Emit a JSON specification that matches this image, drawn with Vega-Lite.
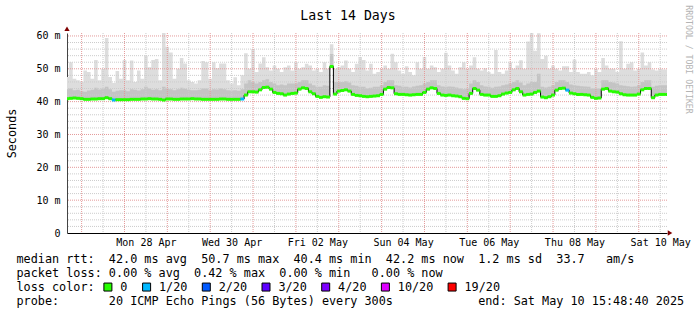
{
"$schema": "https://vega.github.io/schema/vega-lite/v6.json",
"width": 600, "height": 200,
"autosize": "none",
"padding": {"left": 67, "top": 33, "right": 30, "bottom": 82},
"background": "white",
"title": {"text": "Last 14 Days", "anchor": "middle", "frame": "group", "dx": -19, "offset": 0, "dy": 28.2, "baseline": "alphabetic", "font": "DejaVu Sans Mono", "fontSize": 13.2, "fontWeight": "normal", "color": "#000"},
"config": {"view": {"stroke": null}, "axis": {"labelFont": "DejaVu Sans Mono", "titleFont": "DejaVu Sans Mono", "labelColor": "#000", "titleColor": "#000", "titleFontWeight": "normal"}},
"datasets": {
"smoke": [
{"t":"2025-04-26T14:00","md":40.9,"up":43.5,"mx":47,"ls":"0"},
{"t":"2025-04-26T16:00","md":40.9,"up":43.8,"mx":47.5,"ls":"0"},
{"t":"2025-04-26T18:00","md":41.0,"up":44.0,"mx":52,"ls":"0"},
{"t":"2025-04-26T20:00","md":41.1,"up":43.5,"mx":47,"ls":"0"},
{"t":"2025-04-26T22:00","md":41.0,"up":43.6,"mx":46.5,"ls":"0"},
{"t":"2025-04-27T00:00","md":40.9,"up":43.2,"mx":46,"ls":"0"},
{"t":"2025-04-27T02:00","md":40.7,"up":43.0,"mx":49.5,"ls":"0"},
{"t":"2025-04-27T04:00","md":40.7,"up":43.4,"mx":49,"ls":"0"},
{"t":"2025-04-27T06:00","md":40.8,"up":43.6,"mx":47,"ls":"0"},
{"t":"2025-04-27T08:00","md":40.8,"up":44.2,"mx":52.7,"ls":"0"},
{"t":"2025-04-27T10:00","md":40.9,"up":43.7,"mx":46.5,"ls":"0"},
{"t":"2025-04-27T12:00","md":40.9,"up":44.0,"mx":50,"ls":"0"},
{"t":"2025-04-27T14:00","md":41.2,"up":44.5,"mx":59.4,"ls":"0"},
{"t":"2025-04-27T16:00","md":40.9,"up":43.8,"mx":47.5,"ls":"0"},
{"t":"2025-04-27T18:00","md":40.5,"up":43.0,"mx":45.7,"ls":"1/20"},
{"t":"2025-04-27T20:00","md":40.6,"up":43.3,"mx":49.3,"ls":"0"},
{"t":"2025-04-27T22:00","md":40.6,"up":43.5,"mx":47,"ls":"0"},
{"t":"2025-04-28T00:00","md":40.6,"up":43.5,"mx":52.7,"ls":"0"},
{"t":"2025-04-28T02:00","md":40.6,"up":43.2,"mx":46.5,"ls":"0"},
{"t":"2025-04-28T04:00","md":40.7,"up":43.8,"mx":52.5,"ls":"0"},
{"t":"2025-04-28T06:00","md":40.7,"up":43.6,"mx":46,"ls":"0"},
{"t":"2025-04-28T08:00","md":40.7,"up":43.4,"mx":49.5,"ls":"0"},
{"t":"2025-04-28T10:00","md":40.8,"up":43.8,"mx":47,"ls":"0"},
{"t":"2025-04-28T12:00","md":40.8,"up":44.5,"mx":54,"ls":"0"},
{"t":"2025-04-28T14:00","md":40.9,"up":44.0,"mx":50.5,"ls":"0"},
{"t":"2025-04-28T16:00","md":40.8,"up":43.6,"mx":52.7,"ls":"0"},
{"t":"2025-04-28T18:00","md":40.8,"up":43.8,"mx":53,"ls":"0"},
{"t":"2025-04-28T20:00","md":40.7,"up":43.5,"mx":46.5,"ls":"0"},
{"t":"2025-04-28T22:00","md":40.5,"up":44.5,"mx":61,"ls":"0"},
{"t":"2025-04-29T00:00","md":40.8,"up":44.0,"mx":56.7,"ls":"0"},
{"t":"2025-04-29T02:00","md":40.8,"up":43.8,"mx":55,"ls":"0"},
{"t":"2025-04-29T04:00","md":40.7,"up":43.5,"mx":47,"ls":"0"},
{"t":"2025-04-29T06:00","md":40.7,"up":43.8,"mx":50,"ls":"0"},
{"t":"2025-04-29T08:00","md":40.8,"up":44.2,"mx":53.3,"ls":"0"},
{"t":"2025-04-29T10:00","md":40.8,"up":43.9,"mx":51.6,"ls":"0"},
{"t":"2025-04-29T12:00","md":40.8,"up":43.6,"mx":46.5,"ls":"0"},
{"t":"2025-04-29T14:00","md":40.9,"up":43.5,"mx":46,"ls":"0"},
{"t":"2025-04-29T16:00","md":40.8,"up":43.5,"mx":45.5,"ls":"0"},
{"t":"2025-04-29T18:00","md":40.8,"up":43.6,"mx":46.5,"ls":"0"},
{"t":"2025-04-29T20:00","md":40.7,"up":44.0,"mx":52.4,"ls":"0"},
{"t":"2025-04-29T22:00","md":40.7,"up":44.0,"mx":52,"ls":"0"},
{"t":"2025-04-30T00:00","md":40.7,"up":43.5,"mx":47,"ls":"0"},
{"t":"2025-04-30T02:00","md":40.7,"up":43.8,"mx":52,"ls":"0"},
{"t":"2025-04-30T04:00","md":40.7,"up":43.7,"mx":50.2,"ls":"0"},
{"t":"2025-04-30T06:00","md":40.8,"up":44.0,"mx":51.6,"ls":"0"},
{"t":"2025-04-30T08:00","md":40.8,"up":43.8,"mx":51.6,"ls":"0"},
{"t":"2025-04-30T10:00","md":40.7,"up":43.5,"mx":46.5,"ls":"0"},
{"t":"2025-04-30T12:00","md":40.7,"up":43.4,"mx":45.5,"ls":"0"},
{"t":"2025-04-30T14:00","md":40.7,"up":43.5,"mx":47.4,"ls":"0"},
{"t":"2025-04-30T16:00","md":40.7,"up":43.3,"mx":45,"ls":"0"},
{"t":"2025-04-30T18:00","md":40.8,"up":43.8,"mx":48,"ls":"1/20"},
{"t":"2025-04-30T20:00","md":42.0,"up":45.5,"mx":54.7,"ls":"0"},
{"t":"2025-04-30T22:00","md":43.0,"up":46.5,"mx":50,"ls":"0"},
{"t":"2025-05-01T00:00","md":43.0,"up":46.0,"mx":56,"ls":"0"},
{"t":"2025-05-01T02:00","md":42.9,"up":45.5,"mx":49,"ls":"0"},
{"t":"2025-05-01T04:00","md":43.6,"up":46.0,"mx":51.6,"ls":"0"},
{"t":"2025-05-01T06:00","md":44.3,"up":46.5,"mx":53.5,"ls":"0"},
{"t":"2025-05-01T08:00","md":44.4,"up":46.8,"mx":50.5,"ls":"0"},
{"t":"2025-05-01T10:00","md":43.8,"up":46.0,"mx":49.5,"ls":"0"},
{"t":"2025-05-01T12:00","md":42.8,"up":45.5,"mx":51,"ls":"0"},
{"t":"2025-05-01T14:00","md":42.5,"up":45.0,"mx":50,"ls":"0"},
{"t":"2025-05-01T16:00","md":42.4,"up":45.2,"mx":49,"ls":"0"},
{"t":"2025-05-01T18:00","md":42.0,"up":45.0,"mx":50.5,"ls":"0"},
{"t":"2025-05-01T20:00","md":42.3,"up":45.5,"mx":51,"ls":"0"},
{"t":"2025-05-01T22:00","md":42.5,"up":45.5,"mx":49.5,"ls":"0"},
{"t":"2025-05-02T00:00","md":42.6,"up":45.5,"mx":52,"ls":"0"},
{"t":"2025-05-02T02:00","md":43.8,"up":46.0,"mx":50,"ls":"0"},
{"t":"2025-05-02T04:00","md":44.2,"up":46.5,"mx":50.5,"ls":"0"},
{"t":"2025-05-02T06:00","md":44.0,"up":46.5,"mx":51.5,"ls":"0"},
{"t":"2025-05-02T08:00","md":43.0,"up":45.5,"mx":51,"ls":"0"},
{"t":"2025-05-02T10:00","md":42.4,"up":45.0,"mx":49.5,"ls":"0"},
{"t":"2025-05-02T12:00","md":41.6,"up":44.5,"mx":50,"ls":"0"},
{"t":"2025-05-02T14:00","md":41.3,"up":44.5,"mx":49,"ls":"0"},
{"t":"2025-05-02T16:00","md":41.5,"up":45.0,"mx":52,"ls":"0"},
{"t":"2025-05-02T18:00","md":41.4,"up":44.8,"mx":50,"ls":"0"},
{"t":"2025-05-02T20:00","md":50.7,"up":54.5,"mx":57.5,"ls":"0"},
{"t":"2025-05-02T22:00","md":42.3,"up":46.0,"mx":50,"ls":"0"},
{"t":"2025-05-03T00:00","md":43.2,"up":46.0,"mx":50.5,"ls":"0"},
{"t":"2025-05-03T02:00","md":43.4,"up":46.0,"mx":51,"ls":"0"},
{"t":"2025-05-03T04:00","md":43.6,"up":46.2,"mx":52.5,"ls":"0"},
{"t":"2025-05-03T06:00","md":43.2,"up":45.8,"mx":50,"ls":"0"},
{"t":"2025-05-03T08:00","md":42.2,"up":45.0,"mx":49,"ls":"0"},
{"t":"2025-05-03T10:00","md":41.9,"up":44.8,"mx":51.5,"ls":"0"},
{"t":"2025-05-03T12:00","md":41.8,"up":44.5,"mx":53.6,"ls":"0"},
{"t":"2025-05-03T14:00","md":41.6,"up":44.5,"mx":52.7,"ls":"0"},
{"t":"2025-05-03T16:00","md":41.5,"up":44.0,"mx":49.5,"ls":"0"},
{"t":"2025-05-03T18:00","md":41.6,"up":44.2,"mx":51.5,"ls":"0"},
{"t":"2025-05-03T20:00","md":41.7,"up":44.5,"mx":48.5,"ls":"0"},
{"t":"2025-05-03T22:00","md":41.8,"up":44.5,"mx":49,"ls":"0"},
{"t":"2025-05-04T00:00","md":42.2,"up":45.0,"mx":50,"ls":"0"},
{"t":"2025-05-04T02:00","md":43.8,"up":46.0,"mx":51,"ls":"0"},
{"t":"2025-05-04T04:00","md":44.3,"up":46.5,"mx":50,"ls":"0"},
{"t":"2025-05-04T06:00","md":44.2,"up":46.5,"mx":54.6,"ls":"0"},
{"t":"2025-05-04T08:00","md":42.4,"up":45.0,"mx":52,"ls":"0"},
{"t":"2025-05-04T10:00","md":42.2,"up":44.8,"mx":49.5,"ls":"0"},
{"t":"2025-05-04T12:00","md":42.2,"up":44.5,"mx":48.5,"ls":"0"},
{"t":"2025-05-04T14:00","md":42.1,"up":44.5,"mx":50.8,"ls":"0"},
{"t":"2025-05-04T16:00","md":42.0,"up":44.3,"mx":49,"ls":"0"},
{"t":"2025-05-04T18:00","md":42.1,"up":44.6,"mx":48,"ls":"0"},
{"t":"2025-05-04T20:00","md":42.2,"up":44.8,"mx":52,"ls":"0"},
{"t":"2025-05-04T22:00","md":42.2,"up":45.0,"mx":50,"ls":"0"},
{"t":"2025-05-05T00:00","md":42.8,"up":45.5,"mx":53.6,"ls":"0"},
{"t":"2025-05-05T02:00","md":43.8,"up":46.0,"mx":50,"ls":"0"},
{"t":"2025-05-05T04:00","md":44.2,"up":46.5,"mx":51,"ls":"0"},
{"t":"2025-05-05T06:00","md":44.0,"up":46.5,"mx":50.5,"ls":"0"},
{"t":"2025-05-05T08:00","md":42.5,"up":45.0,"mx":49,"ls":"0"},
{"t":"2025-05-05T10:00","md":42.0,"up":44.6,"mx":50,"ls":"0"},
{"t":"2025-05-05T12:00","md":41.9,"up":44.5,"mx":54.9,"ls":"0"},
{"t":"2025-05-05T14:00","md":42.0,"up":44.6,"mx":51,"ls":"0"},
{"t":"2025-05-05T16:00","md":41.8,"up":44.5,"mx":49.5,"ls":"0"},
{"t":"2025-05-05T18:00","md":41.7,"up":44.3,"mx":48.5,"ls":"0"},
{"t":"2025-05-05T20:00","md":41.5,"up":44.0,"mx":50.5,"ls":"0"},
{"t":"2025-05-05T22:00","md":41.0,"up":43.8,"mx":52,"ls":"0"},
{"t":"2025-05-06T00:00","md":40.9,"up":44.0,"mx":50,"ls":"0"},
{"t":"2025-05-06T02:00","md":42.5,"up":45.5,"mx":51,"ls":"0"},
{"t":"2025-05-06T04:00","md":44.0,"up":46.5,"mx":53.5,"ls":"0"},
{"t":"2025-05-06T06:00","md":43.5,"up":46.0,"mx":50,"ls":"0"},
{"t":"2025-05-06T08:00","md":42.2,"up":45.0,"mx":49.5,"ls":"0"},
{"t":"2025-05-06T10:00","md":42.0,"up":44.6,"mx":50.2,"ls":"0"},
{"t":"2025-05-06T12:00","md":42.0,"up":44.5,"mx":49,"ls":"0"},
{"t":"2025-05-06T14:00","md":41.6,"up":44.2,"mx":48.5,"ls":"0"},
{"t":"2025-05-06T16:00","md":41.6,"up":44.5,"mx":55.7,"ls":"0"},
{"t":"2025-05-06T18:00","md":41.8,"up":44.6,"mx":49,"ls":"0"},
{"t":"2025-05-06T20:00","md":42.3,"up":45.0,"mx":48.5,"ls":"0"},
{"t":"2025-05-06T22:00","md":42.6,"up":45.2,"mx":49.5,"ls":"0"},
{"t":"2025-05-07T00:00","md":42.8,"up":45.5,"mx":52,"ls":"0"},
{"t":"2025-05-07T02:00","md":43.6,"up":46.0,"mx":50,"ls":"0"},
{"t":"2025-05-07T04:00","md":44.0,"up":46.5,"mx":51,"ls":"0"},
{"t":"2025-05-07T06:00","md":43.0,"up":45.8,"mx":52.6,"ls":"0"},
{"t":"2025-05-07T08:00","md":42.0,"up":45.0,"mx":50,"ls":"0"},
{"t":"2025-05-07T10:00","md":42.2,"up":45.5,"mx":58.3,"ls":"0"},
{"t":"2025-05-07T12:00","md":42.3,"up":46.0,"mx":61,"ls":"0"},
{"t":"2025-05-07T14:00","md":42.8,"up":46.0,"mx":55.5,"ls":"0"},
{"t":"2025-05-07T16:00","md":43.2,"up":48.5,"mx":60.8,"ls":"0"},
{"t":"2025-05-07T18:00","md":41.4,"up":44.5,"mx":53,"ls":"0"},
{"t":"2025-05-07T20:00","md":41.2,"up":44.3,"mx":54,"ls":"0"},
{"t":"2025-05-07T22:00","md":41.5,"up":44.5,"mx":50,"ls":"0"},
{"t":"2025-05-08T00:00","md":42.0,"up":45.0,"mx":51,"ls":"0"},
{"t":"2025-05-08T02:00","md":43.5,"up":46.0,"mx":50,"ls":"0"},
{"t":"2025-05-08T04:00","md":44.0,"up":46.5,"mx":49.5,"ls":"0"},
{"t":"2025-05-08T06:00","md":44.1,"up":46.5,"mx":50.8,"ls":"0"},
{"t":"2025-05-08T08:00","md":43.5,"up":46.0,"mx":50.8,"ls":"1/20"},
{"t":"2025-05-08T10:00","md":42.6,"up":45.2,"mx":49,"ls":"0"},
{"t":"2025-05-08T12:00","md":42.4,"up":45.0,"mx":52.8,"ls":"0"},
{"t":"2025-05-08T14:00","md":42.2,"up":44.8,"mx":49,"ls":"0"},
{"t":"2025-05-08T16:00","md":42.2,"up":44.7,"mx":48.5,"ls":"0"},
{"t":"2025-05-08T18:00","md":42.1,"up":44.6,"mx":48.5,"ls":"0"},
{"t":"2025-05-08T20:00","md":42.0,"up":44.5,"mx":49,"ls":"0"},
{"t":"2025-05-08T22:00","md":41.3,"up":44.0,"mx":48,"ls":"0"},
{"t":"2025-05-09T00:00","md":41.0,"up":44.0,"mx":50,"ls":"0"},
{"t":"2025-05-09T02:00","md":41.1,"up":44.0,"mx":49,"ls":"0"},
{"t":"2025-05-09T04:00","md":43.8,"up":46.5,"mx":53.3,"ls":"0"},
{"t":"2025-05-09T06:00","md":44.0,"up":46.5,"mx":51,"ls":"0"},
{"t":"2025-05-09T08:00","md":43.2,"up":46.0,"mx":50,"ls":"0"},
{"t":"2025-05-09T10:00","md":43.0,"up":45.8,"mx":50,"ls":"0"},
{"t":"2025-05-09T12:00","md":42.9,"up":45.5,"mx":49,"ls":"0"},
{"t":"2025-05-09T14:00","md":42.4,"up":45.0,"mx":58.4,"ls":"0"},
{"t":"2025-05-09T16:00","md":42.1,"up":44.8,"mx":50,"ls":"0"},
{"t":"2025-05-09T18:00","md":42.0,"up":44.7,"mx":51.5,"ls":"0"},
{"t":"2025-05-09T20:00","md":42.0,"up":44.5,"mx":52,"ls":"0"},
{"t":"2025-05-09T22:00","md":42.0,"up":44.6,"mx":49.5,"ls":"0"},
{"t":"2025-05-10T00:00","md":42.3,"up":45.0,"mx":50,"ls":"0"},
{"t":"2025-05-10T02:00","md":43.6,"up":46.0,"mx":55,"ls":"0"},
{"t":"2025-05-10T04:00","md":44.0,"up":46.5,"mx":51,"ls":"0"},
{"t":"2025-05-10T06:00","md":44.0,"up":46.5,"mx":52,"ls":"0"},
{"t":"2025-05-10T08:00","md":41.2,"up":44.5,"mx":49.8,"ls":"0"},
{"t":"2025-05-10T10:00","md":42.0,"up":44.8,"mx":49.5,"ls":"0"},
{"t":"2025-05-10T12:00","md":42.2,"up":45.0,"mx":50,"ls":"0"},
{"t":"2025-05-10T14:00","md":42.2,"up":45.0,"mx":49.8,"ls":"0"},
{"t":"2025-05-10T16:00","md":42.2,"up":45.0,"mx":49.8,"ls":"0"}
],
"ygmin": [{"v":2},{"v":4},{"v":6},{"v":8},{"v":12},{"v":14},{"v":16},{"v":18},{"v":22},{"v":24},{"v":26},{"v":28},{"v":32},{"v":34},{"v":36},{"v":38},{"v":42},{"v":44},{"v":46},{"v":48},{"v":52},{"v":54},{"v":56},{"v":58}],
"ygmaj": [{"v":10},{"v":20},{"v":30},{"v":40},{"v":50},{"v":60}],
"xgmin": [{"t":"2025-04-27T12:00"},{"t":"2025-04-28T12:00"},{"t":"2025-04-29T12:00"},{"t":"2025-04-30T12:00"},{"t":"2025-05-01T12:00"},{"t":"2025-05-02T12:00"},{"t":"2025-05-03T12:00"},{"t":"2025-05-04T12:00"},{"t":"2025-05-05T12:00"},{"t":"2025-05-06T12:00"},{"t":"2025-05-07T12:00"},{"t":"2025-05-08T12:00"},{"t":"2025-05-09T12:00"},{"t":"2025-05-10T12:00"}],
"xgmaj": [{"t":"2025-04-27T00:00"},{"t":"2025-04-28T00:00"},{"t":"2025-04-29T00:00"},{"t":"2025-04-30T00:00"},{"t":"2025-05-01T00:00"},{"t":"2025-05-02T00:00"},{"t":"2025-05-03T00:00"},{"t":"2025-05-04T00:00"},{"t":"2025-05-05T00:00"},{"t":"2025-05-06T00:00"},{"t":"2025-05-07T00:00"},{"t":"2025-05-08T00:00"},{"t":"2025-05-09T00:00"},{"t":"2025-05-10T00:00"}],
"arrows": [{"t":"2025-05-10T17:30","v":0,"s":"triangle-right"},{"t":"2025-04-26T15:48:40","v":62.2,"s":"triangle-up"}]
},
"layer": [
{"data": {"name": "smoke"}, "mark": {"type": "area", "interpolate": "step", "color": "#dddddd", "clip": true},
 "encoding": {
  "x": {"field": "t", "type": "temporal", "scale": {"domain": [{"year":2025,"month":"apr","date":26,"hours":15,"minutes":48,"seconds":40},{"year":2025,"month":"may","date":10,"hours":15,"minutes":48,"seconds":40}]},
   "axis": {"values": [{"year":2025,"month":"apr","date":28,"hours":12},{"year":2025,"month":"apr","date":30,"hours":12},{"year":2025,"month":"may","date":2,"hours":12},{"year":2025,"month":"may","date":4,"hours":12},{"year":2025,"month":"may","date":6,"hours":12},{"year":2025,"month":"may","date":8,"hours":12},{"year":2025,"month":"may","date":10,"hours":12}],
    "format": "%a %d %b", "labelFontSize": 10, "labelPadding": 4.6, "ticks": false, "grid": false, "domainColor": "#000", "labelAngle": 0, "labelOverlap": false, "labelFlush": false,
    "title": ["median rtt:\u00a0\u00a042.0 ms avg\u00a0\u00a050.7 ms max\u00a0\u00a040.4 ms min\u00a0\u00a042.2 ms now\u00a0\u00a01.2 ms sd\u00a0\u00a033.7\u00a0\u00a0\u00a0am/s", "packet loss: 0.00 % avg\u00a0\u00a00.42 % max\u00a0\u00a00.00 % min\u00a0\u00a0\u00a00.00 % now", "loss color:", "probe:\u00a0\u00a0\u00a0\u00a0\u00a0\u00a0\u00a020 ICMP Echo Pings (56 Bytes) every 300s\u00a0\u00a0\u00a0\u00a0\u00a0\u00a0\u00a0\u00a0\u00a0\u00a0\u00a0\u00a0end: Sat May 10 15:48:40 2025"],
    "titleX": -51, "titleY": 20.9, "titleAlign": "left", "titleAnchor": "start", "titleBaseline": "top", "titleFontSize": 11.8, "titleLineHeight": 14}},
  "y": {"field": "mx", "type": "quantitative", "scale": {"domain": [0, 60.9], "nice": false},
   "axis": {"orient": "left", "values": [0,10,20,30,40,50,60], "labelExpr": "datum.value == 0 ? '0' : datum.value + ' m'", "labelFontSize": 10, "labelPadding": 7, "ticks": false, "grid": false, "domainColor": "#444",
    "title": "Seconds", "titleFontSize": 11.8, "titleX": -56, "titleY": 100, "titleAngle": 270, "titleAlign": "center", "titleBaseline": "middle"}},
  "y2": {"field": "md"}
 }},
{"data": {"name": "smoke"}, "mark": {"type": "area", "interpolate": "step", "color": "#c4c4c4", "clip": true},
 "encoding": {
  "x": {"field": "t", "type": "temporal"},
  "y": {"field": "up", "type": "quantitative", "scale": {"domain": [0, 60.9], "nice": false}, "axis": null},
  "y2": {"field": "md"}
 }},
{"data": {"name": "ygmin"}, "mark": {"type": "rule", "color": "#cccccc", "strokeDash": [1,1], "strokeWidth": 1},
 "encoding": {"y": {"field": "v", "type": "quantitative", "scale": {"domain": [0, 60.9], "nice": false}, "axis": null}}},
{"data": {"name": "ygmaj"}, "mark": {"type": "rule", "color": "#e49a9a", "strokeDash": [1,1], "strokeWidth": 1},
 "encoding": {"y": {"field": "v", "type": "quantitative", "scale": {"domain": [0, 60.9], "nice": false}, "axis": null}}},
{"data": {"name": "xgmin"}, "mark": {"type": "rule", "color": "#cccccc", "strokeDash": [1,1], "strokeWidth": 1},
 "encoding": {"x": {"field": "t", "type": "temporal"}}},
{"data": {"name": "xgmaj"}, "mark": {"type": "rule", "color": "#e49a9a", "strokeDash": [1,1], "strokeWidth": 1},
 "encoding": {"x": {"field": "t", "type": "temporal"}}},
{"data": {"name": "smoke"}, "mark": {"type": "line", "interpolate": "step", "color": "#000", "strokeWidth": 1, "clip": true},
 "encoding": {
  "x": {"field": "t", "type": "temporal"},
  "y": {"field": "md", "type": "quantitative", "scale": {"domain": [0, 60.9], "nice": false}, "axis": null}
 }},
{"data": {"name": "smoke"}, "mark": {"type": "tick", "orient": "horizontal", "size": 3.8, "thickness": 3, "clip": true, "opacity": 1},
 "encoding": {
  "x": {"field": "t", "type": "temporal"},
  "y": {"field": "md", "type": "quantitative", "scale": {"domain": [0, 60.9], "nice": false}, "axis": null},
  "fill": {"field": "ls", "type": "nominal",
   "scale": {"domain": ["0","1/20","2/20","3/20","4/20","10/20","19/20"], "range": ["#26ff00","#00b8ff","#0059ff","#5e00ff","#7e00ff","#dd00ff","#ff0000"]},
   "legend": {"orient": "none", "legendX": 35, "legendY": 248, "direction": "horizontal", "columns": 7, "title": null,
    "symbolType": "square", "symbolSize": 64, "symbolStrokeColor": "#000", "symbolStrokeWidth": 1, "symbolOpacity": 1,
    "labelFont": "DejaVu Sans Mono", "labelFontSize": 11.8, "labelColor": "#000", "labelOffset": 6.5, "columnPadding": 11.7, "labelLimit": 0}}
 }},
{"data": {"name": "arrows"}, "mark": {"type": "point", "filled": true, "size": 28, "color": "#7f0000", "opacity": 1, "clip": false},
 "encoding": {
  "x": {"field": "t", "type": "temporal"},
  "y": {"field": "v", "type": "quantitative", "scale": {"domain": [0, 60.9], "nice": false},
   "axis": {"orient": "right", "labels": false, "ticks": false, "domain": false, "grid": false, "title": "RRDTOOL / TOBI OETIKER", "titleAngle": 90, "titleFontSize": 8.2, "titleColor": "#b4b4b4", "titleX": 20, "titleY": 26, "titleAlign": "center", "titleBaseline": "middle"}},
  "shape": {"field": "s", "type": "nominal", "scale": null}
 }}
],
"resolve": {"scale": {"y": "shared"}, "axis": {"y": "independent"}}
}
